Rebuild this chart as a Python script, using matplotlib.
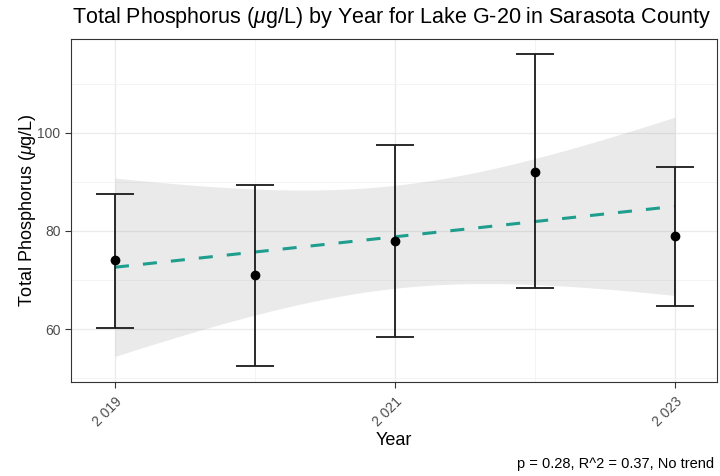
import numpy as np
import matplotlib
matplotlib.use("Agg")
import matplotlib.pyplot as plt

years = [2019, 2020, 2021, 2022, 2023]
means = [74.0, 71.0, 78.0, 92.0, 79.0]
lower = [60.3, 52.4, 58.4, 68.3, 64.8]
upper = [87.5, 89.4, 97.4, 116.0, 93.1]
xtick_labels = ["2 019", "2 021", "2 023"]
xticks = [2019, 2021, 2023]
yticks = [60, 80, 100]

plt.rcParams['font.family'] = ['Liberation Sans', 'DejaVu Sans']
plt.rcParams['mathtext.fontset'] = 'custom'
plt.rcParams['mathtext.it'] = 'Liberation Sans:italic'
plt.rcParams['mathtext.rm'] = 'Liberation Sans'

W, H = 720, 476
fig = plt.figure(figsize=(7.2, 4.76), dpi=100)
ax = fig.add_axes([71/W, 1-381.7/H, (717-71)/W, (381.7-39.3)/H])

x = np.array(years, float)
y = np.array(means, float)
# linear fit with 95% confidence band (as in geom_smooth(method="lm"))
b, a = np.polyfit(x, y, 1)
xs = np.linspace(x.min(), x.max(), 100)
ys = a + b * xs
n = len(x)
resid = y - (a + b * x)
s = np.sqrt(np.sum(resid**2) / (n - 2))
tcrit = 3.182446
se = s * np.sqrt(1/n + (xs - x.mean())**2 / np.sum((x - x.mean())**2))
ax.fill_between(xs, ys - tcrit*se, ys + tcrit*se, color=(0.6, 0.6, 0.6), alpha=0.2, lw=0, zorder=2)
ax.plot(xs, ys, color="#1f9e8e", lw=2.2, ls=(0, (4.6, 4.6)), zorder=3)

yerr = [y - np.array(lower), np.array(upper) - y]
ax.errorbar(x, y, yerr=yerr, fmt='o', color='black', ms=6, ecolor='#1a1a1a',
            elinewidth=1.3, capsize=14, capthick=1.3, zorder=4)

ax.set_xlim(2018.686, 2023.3)
ax.set_ylim(49.3, 119.0)
ax.set_xticks(xticks)
ax.set_xticklabels(xtick_labels, rotation=45, ha='right', va='top', rotation_mode='anchor')
ax.set_yticks(yticks)
ax.set_xticks([2020, 2022], minor=True)
ax.set_yticks([50, 70, 90, 110], minor=True)
ax.grid(True, which='major', color='#ebebeb', lw=1.0, zorder=0)
ax.grid(True, which='minor', color='#f2f2f2', lw=0.6, zorder=0)
ax.set_axisbelow(True)
ax.tick_params(which='major', direction='out', length=4, width=0.8, color='#333333',
               labelsize=10, labelcolor='#4d4d4d')
ax.tick_params(axis='x', which='major', pad=5)
ax.tick_params(which='minor', length=0)
for sp in ax.spines.values():
    sp.set_color('#333333')
    sp.set_linewidth(0.8)

fig.text(394/W, 1-445/H, "Year", fontsize=13, ha='center', va='baseline')
fig.text(28/W, 1-210.5/H, r"Total Phosphorus ($\mu$g/L)", fontsize=13, rotation=90,
         ha='center', va='center')
fig.text(72/W, 1-23.5/H, r"Total Phosphorus ($\mu$g/L) by Year for Lake G-20 in Sarasota County",
         fontsize=15.5, ha='left', va='baseline')
fig.text(714/W, 1-468/H, "p = 0.28, R^2 = 0.37, No trend", fontsize=10.5, ha='right', va='baseline')

fig.savefig("out.png", dpi=100)
